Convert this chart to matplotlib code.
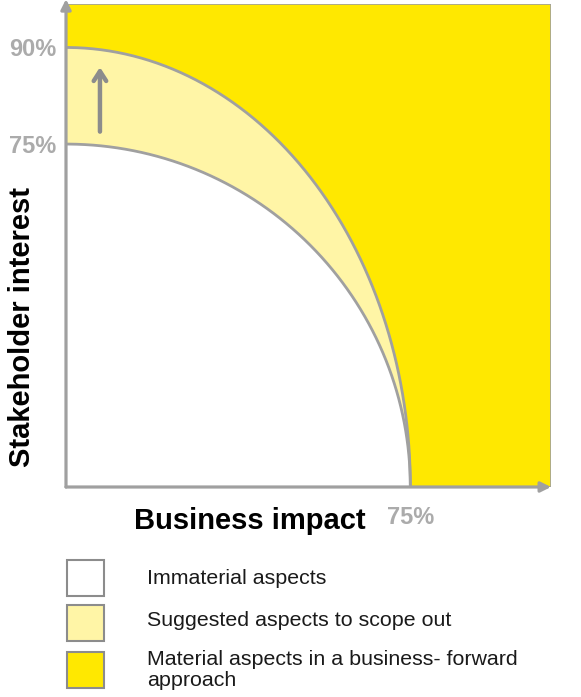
import numpy as np
import matplotlib
matplotlib.use("Agg")
from matplotlib import pyplot as plt
from matplotlib.patches import Rectangle

plt.rcParams['font.family'] = ['Liberation Sans', 'DejaVu Sans']

# boundaries in axis units (0-100 of each axis)
impact_limit = 71          # where both curves meet the x axis ("75%")
interest_low = 71          # inner curve on the y axis ("75%")
interest_high = 91         # outer curve on the y axis ("90%")
y_tick_pos = [interest_low, interest_high]
y_tick_labels = ["75%", "90%"]
x_tick_pos = [impact_limit]
x_tick_labels = ["75%"]

legend_labels = ["Immaterial aspects",
                 "Suggested aspects to scope out",
                 "Material aspects in a business- forward\napproach"]

YELLOW = "#FFE800"
LIGHT = "#FFF5A6"
WHITE = "#FFFFFF"
GREY = "#A0A0A0"
LABEL_GREY = "#ABABAB"
legend_colors = [WHITE, LIGHT, YELLOW]

W, H = 581, 697
fig = plt.figure(figsize=(W / 100, H / 100), dpi=100)
ax = fig.add_axes([66 / W, (H - 487) / H, 485 / W, 483 / H])
ax.set_xlim(0, 100)
ax.set_ylim(0, 100)

# background: material region
ax.add_patch(Rectangle((0, 0), 100, 100, facecolor=YELLOW, edgecolor=GREY, lw=1.2, zorder=0))

t = np.linspace(0, np.pi / 2, 200)
ex = impact_limit * np.cos(t)
outer_y = interest_high * np.sin(t)
inner_y = interest_low * np.sin(t)
ax.fill(np.r_[0, ex], np.r_[0, outer_y], color=LIGHT, lw=0, zorder=1)
ax.fill(np.r_[0, ex], np.r_[0, inner_y], color=WHITE, lw=0, zorder=2)
ax.plot(ex, outer_y, color=GREY, lw=2, zorder=3)
ax.plot(ex, inner_y, color=GREY, lw=2, zorder=3)

# upward arrow between the two curves
ax.annotate("", xy=(7, 87.5), xytext=(7, 73),
            arrowprops=dict(arrowstyle="->,head_length=0.7,head_width=0.45",
                            color="#8C8C8C", lw=3.2), zorder=4)

for s in ax.spines.values():
    s.set_visible(False)

# axes arrows
ax.annotate("", xy=(0, 1.01), xytext=(0, 0), xycoords="axes fraction",
            arrowprops=dict(arrowstyle="-|>,head_length=0.6,head_width=0.3",
                            color=GREY, lw=2.3, shrinkA=0, shrinkB=0), zorder=5)
ax.annotate("", xy=(1.0, 0), xytext=(0, 0), xycoords="axes fraction",
            arrowprops=dict(arrowstyle="-|>,head_length=0.6,head_width=0.3",
                            color=GREY, lw=2.3, shrinkA=0, shrinkB=0), zorder=5)

ax.set_yticks(y_tick_pos, y_tick_labels)
ax.set_xticks(x_tick_pos, x_tick_labels)
ax.tick_params(length=0, labelsize=17, labelcolor=LABEL_GREY)
ax.tick_params(axis="y", pad=7)
ax.tick_params(axis="x", pad=14)
for lab in ax.get_xticklabels() + ax.get_yticklabels():
    lab.set_fontweight("bold")

fig.text(22 / W, 1 - 327 / H, "Stakeholder interest", rotation=90, ha="center",
         va="center", fontsize=21, fontweight="bold")
fig.text(250 / W, 1 - 521 / H, "Business impact", ha="center", va="center",
         fontsize=21, fontweight="bold")

# legend
box_tops = [560, 605, 652]
text_y = [578, 620, 670]
for top, ty, c, lab in zip(box_tops, text_y, legend_colors, legend_labels):
    fig.add_artist(Rectangle((67 / W, 1 - (top + 36) / H), 37 / W, 36 / H,
                             transform=fig.transFigure, facecolor=c,
                             edgecolor="#8C8C8C", lw=1.5))
    fig.text(147 / W, 1 - ty / H, lab, ha="left", va="center", fontsize=15.4,
             linespacing=1.15, color="#1A1A1A")

fig.savefig("out.png", dpi=100)
